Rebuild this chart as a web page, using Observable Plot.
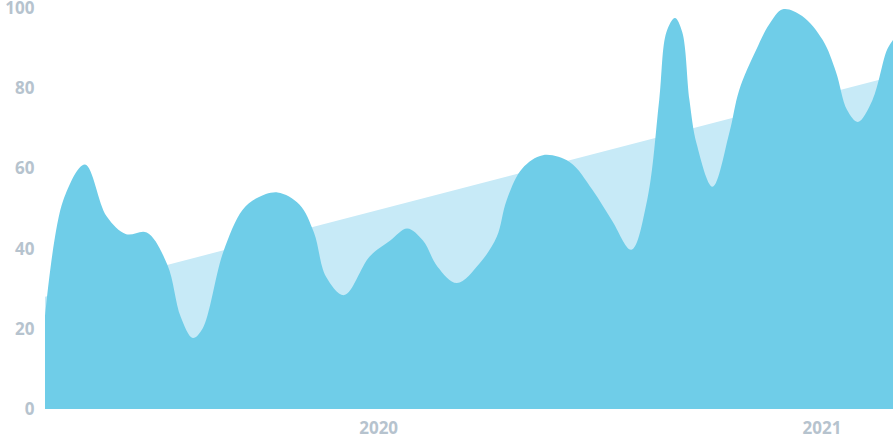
<!DOCTYPE html>
<html>
<head>
<meta charset="utf-8">
<script src="https://cdn.jsdelivr.net/npm/d3@7"></script>
<script src="https://cdn.jsdelivr.net/npm/@observablehq/plot@0.6"></script>
<style>
  html, body { margin: 0; padding: 0; background: #ffffff; }
  #chart svg { display: block; }
</style>
</head>
<body>
<div id="chart"></div>
<script>
// Series values
const dates = [
  "2019-04-01","2019-04-16","2019-05-04","2019-05-22","2019-06-07","2019-06-24",
  "2019-07-11","2019-07-22","2019-08-01","2019-08-09","2019-08-26","2019-09-11",
  "2019-09-23","2019-10-10","2019-10-28","2019-11-09","2019-11-19","2019-12-04",
  "2019-12-25","2020-01-11","2020-01-25","2020-02-07","2020-02-19","2020-03-06",
  "2020-03-25","2020-04-08","2020-04-16","2020-04-29","2020-05-16","2020-06-07",
  "2020-06-26","2020-07-12","2020-07-28","2020-08-10","2020-08-20","2020-08-26",
  "2020-09-02","2020-09-08","2020-09-14","2020-09-20","2020-10-03","2020-10-17",
  "2020-10-25","2020-11-08","2020-11-19","2020-11-30","2020-12-16","2021-01-02",
  "2021-01-13","2021-01-22","2021-01-31","2021-02-12","2021-02-24","2021-03-01"
];
const values = [
  23, 52, 61, 48, 43.6, 44,
  36, 23, 17.7, 20, 39, 49.6,
  52.6, 54, 51, 44, 33, 28.4,
  38, 42, 45, 42, 35.5, 31.4,
  36.4, 43, 52, 60, 63.3, 61.6,
  54.6, 47, 39.7, 52, 77, 94,
  97.5, 94, 77, 66, 55.4, 69,
  79.5, 89.5, 96, 99.7, 98, 92,
  84, 74.6, 71.6, 77, 89.5, 92
];
// Trend (light band) endpoints
const trendDates = ["2019-04-01", "2021-03-01"];
const trendValues = [28, 83];
// Tick labels
const yTicks = [0, 20, 40, 60, 80, 100];
const xTicks = ["2020-01-01", "2021-01-01"];

const series = dates.map((d, i) => ({date: new Date(d), value: values[i]}));
const trend = trendDates.map((d, i) => ({date: new Date(d), value: trendValues[i]}));

const chart = Plot.plot({
  width: 896,
  height: 448,
  marginLeft: 45,
  marginRight: 3,
  marginTop: 8,
  marginBottom: 39,
  style: {
    fontFamily: "'Open Sans', Lato, sans-serif",
    fontSize: "17px",
    fontWeight: "700",
    background: "#ffffff",
    overflow: "visible"
  },
  x: {
    type: "utc",
    domain: [new Date(trendDates[0]), new Date(trendDates[1])],
    label: null
  },
  y: {
    domain: [0, 100],
    label: null
  },
  marks: [
    Plot.areaY(trend, {x: "date", y: "value", fill: "#c7eaf7"}),
    Plot.areaY(series, {x: "date", y: "value", fill: "#6fcde8", curve: "catmull-rom"}),
    Plot.axisY(yTicks, {tickSize: 0, tickPadding: 11, fill: "#b6c3ce", label: null, fontWeight: "700"}),
    Plot.axisX(xTicks.map(d => new Date(d)), {tickSize: 0, tickPadding: 12, fill: "#b6c3ce", tickFormat: d3.utcFormat("%Y"), label: null, fontWeight: "700"})
  ]
});
document.getElementById("chart").appendChild(chart);
</script>
</body>
</html>
